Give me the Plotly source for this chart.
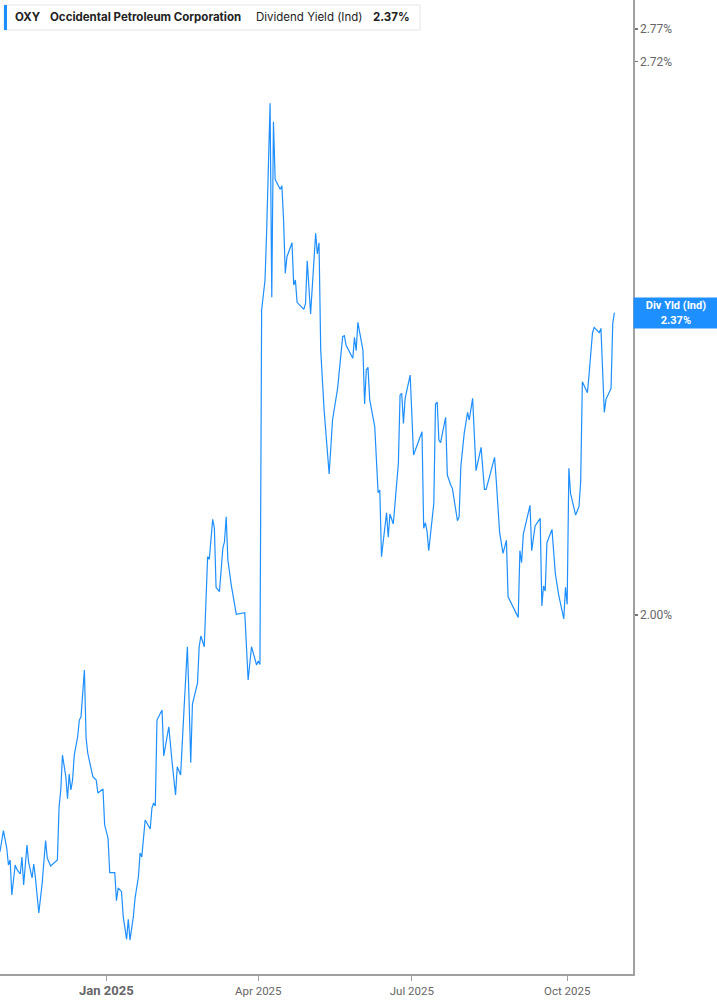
import plotly.graph_objects as go
import math

# ---------------- data ----------------
ticker = "OXY"
company = "Occidental Petroleum Corporation"
metric = "Dividend Yield (Ind)"
metric_short = "Div Yld (Ind)"

dates = [
    "2024-10-30", "2024-11-01", "2024-11-03", "2024-11-04", "2024-11-05", "2024-11-06",
    "2024-11-08", "2024-11-09", "2024-11-11", "2024-11-12", "2024-11-13", "2024-11-15",
    "2024-11-16", "2024-11-18", "2024-11-19", "2024-11-20", "2024-11-22", "2024-11-24",
    "2024-11-26", "2024-11-27", "2024-11-29", "2024-12-03", "2024-12-04", "2024-12-05",
    "2024-12-06", "2024-12-08", "2024-12-09", "2024-12-10", "2024-12-11", "2024-12-12",
    "2024-12-13", "2024-12-15", "2024-12-16", "2024-12-17", "2024-12-19", "2024-12-20",
    "2024-12-21", "2024-12-24", "2024-12-26", "2024-12-27", "2024-12-30", "2024-12-31",
    "2025-01-02", "2025-01-03", "2025-01-06", "2025-01-07", "2025-01-08", "2025-01-10",
    "2025-01-11", "2025-01-13", "2025-01-14", "2025-01-15", "2025-01-17", "2025-01-18",
    "2025-01-20", "2025-01-21", "2025-01-22", "2025-01-24", "2025-01-27", "2025-01-28",
    "2025-01-29", "2025-01-30", "2025-01-31", "2025-02-03", "2025-02-04", "2025-02-07",
    "2025-02-09", "2025-02-11", "2025-02-12", "2025-02-14", "2025-02-16", "2025-02-18",
    "2025-02-19", "2025-02-20", "2025-02-21", "2025-02-24", "2025-02-25", "2025-02-26",
    "2025-02-28", "2025-03-02", "2025-03-03", "2025-03-05", "2025-03-06", "2025-03-07",
    "2025-03-09", "2025-03-11", "2025-03-12", "2025-03-13", "2025-03-14", "2025-03-16",
    "2025-03-19", "2025-03-24", "2025-03-26", "2025-03-28", "2025-03-31", "2025-04-01",
    "2025-04-02", "2025-04-03", "2025-04-05", "2025-04-06", "2025-04-08", "2025-04-09",
    "2025-04-10", "2025-04-11", "2025-04-14", "2025-04-15", "2025-04-16", "2025-04-17",
    "2025-04-18", "2025-04-21", "2025-04-22", "2025-04-23", "2025-04-24", "2025-04-28",
    "2025-04-29", "2025-04-30", "2025-05-02", "2025-05-05", "2025-05-06", "2025-05-07",
    "2025-05-08", "2025-05-10", "2025-05-13", "2025-05-15", "2025-05-18", "2025-05-21",
    "2025-05-22", "2025-05-23", "2025-05-27", "2025-05-28", "2025-05-29", "2025-05-30",
    "2025-06-02", "2025-06-03", "2025-06-04", "2025-06-05", "2025-06-06", "2025-06-09",
    "2025-06-11", "2025-06-12", "2025-06-13", "2025-06-16", "2025-06-17", "2025-06-18",
    "2025-06-20", "2025-06-23", "2025-06-24", "2025-06-25", "2025-06-26", "2025-06-27",
    "2025-06-30", "2025-07-02", "2025-07-07", "2025-07-08", "2025-07-09", "2025-07-10",
    "2025-07-11", "2025-07-14", "2025-07-15", "2025-07-16", "2025-07-17", "2025-07-18",
    "2025-07-21", "2025-07-22", "2025-07-24", "2025-07-25", "2025-07-28", "2025-07-29",
    "2025-07-30", "2025-08-01", "2025-08-03", "2025-08-04", "2025-08-06", "2025-08-08",
    "2025-08-11", "2025-08-13", "2025-08-14", "2025-08-16", "2025-08-19", "2025-08-20",
    "2025-08-22", "2025-08-24", "2025-08-26", "2025-08-27", "2025-09-02", "2025-09-03",
    "2025-09-04", "2025-09-05", "2025-09-09", "2025-09-10", "2025-09-12", "2025-09-15",
    "2025-09-16", "2025-09-17", "2025-09-18", "2025-09-19", "2025-09-22", "2025-09-24",
    "2025-09-26", "2025-09-29", "2025-09-30", "2025-10-01", "2025-10-02", "2025-10-03",
    "2025-10-06", "2025-10-08", "2025-10-09", "2025-10-10", "2025-10-13", "2025-10-14",
    "2025-10-16", "2025-10-17", "2025-10-20", "2025-10-21", "2025-10-23", "2025-10-24",
    "2025-10-27", "2025-10-28", "2025-10-29",
]

div_yield = [
    1.7535, 1.7741, 1.7571, 1.7406, 1.7454, 1.7118,
    1.7406, 1.7364, 1.7319, 1.7483, 1.7213, 1.7600,
    1.7428, 1.7281, 1.7416, 1.7281, 1.6948, 1.7233,
    1.7643, 1.7474, 1.7396, 1.7454, 1.7979, 1.8147,
    1.8503, 1.8281, 1.8059, 1.8309, 1.8147, 1.8248,
    1.8503, 1.8692, 1.8866, 1.8901, 1.9398, 1.8679,
    1.8521, 1.8281, 1.8248, 1.8116, 1.8157, 1.7797,
    1.7669, 1.7332, 1.7332, 1.7064, 1.7185, 1.7150,
    1.6913, 1.6702, 1.6888, 1.6695, 1.6913, 1.7087,
    1.7293, 1.7522, 1.7483, 1.7847, 1.7758, 1.7966,
    1.8016, 1.7986, 1.8866, 1.8972, 1.8493, 1.8796,
    1.8421, 1.8096, 1.8383, 1.8299, 1.8972, 1.9651,
    1.9080, 1.8424, 1.9035, 1.9258, 1.9651, 1.9768,
    1.9651, 2.0659, 2.0629, 2.1092, 2.0991, 2.0310,
    2.0261, 2.0755, 2.0831, 2.1123, 2.0621, 2.0336,
    2.0008, 2.0026, 1.9291, 1.9651, 1.9452, 1.9495,
    1.9457, 2.3694, 2.4092, 2.4771, 2.6578, 2.3862,
    2.6307, 2.5479, 2.5338, 2.5388, 2.4909, 2.4182,
    2.4406, 2.4597, 2.4025, 2.4092, 2.3796, 2.3703,
    2.3782, 2.4352, 2.3641, 2.4726, 2.4443, 2.4597,
    2.3173, 2.2413, 2.1630, 2.2289, 2.2685, 2.3345,
    2.3358, 2.3238, 2.3067, 2.3337, 2.3164, 2.3532,
    2.3173, 2.2488, 2.2917, 2.2951, 2.2547, 2.2206,
    2.1406, 2.1439, 2.0659, 2.1170, 2.0883, 2.1155,
    2.1037, 2.1759, 2.2601, 2.2622, 2.2248, 2.2559,
    2.2853, 2.1860, 2.2145, 2.0987, 2.1053, 2.0948,
    2.0728, 2.1281, 2.2488, 2.2513, 2.2043, 2.2010,
    2.2322, 2.1618, 2.1498, 2.1459, 2.1076, 2.1123,
    2.1718, 2.2125, 2.2385, 2.2289, 2.2559, 2.1670,
    2.1953, 2.1447, 2.1447, 2.1606, 2.1832, 2.1550,
    2.0936, 2.0698, 2.0847, 2.0204, 1.9974, 2.0728,
    2.0590, 2.0917, 2.1257, 2.0728, 2.1014, 2.1104,
    2.0100, 2.0325, 2.0269, 2.0820, 2.0975, 2.0461,
    2.0223, 1.9956, 2.0310, 2.0119, 2.1699, 2.1399,
    2.1143, 2.1241, 2.1538, 2.2768, 2.2630, 2.2866,
    2.3397, 2.3467, 2.3397, 2.3454, 2.2385, 2.2547,
    2.2685, 2.3520, 2.3660,
]

y_tick_vals = [2.00, 2.72, 2.77]
y_tick_text = ["2.00%", "2.72%", "2.77%"]
x_tick_vals = ["2025-01-01", "2025-04-01", "2025-07-01", "2025-10-01"]
x_tick_text = ["Jan 2025", "Apr 2025", "Jul 2025", "Oct 2025"]

# ---------------- layout constants ----------------
W, H = 717, 1005
ML, MR, MT, MB = 0, 84, 0, 31
PW = W - ML - MR
PH = H - MT - MB
BLUE = "#1E8FFF"
GRAY_TXT = "#666666"
AXIS = "#a0a0a0"
FONT = "Roboto"
LEG_FONT = "Inter"


def px(x):
    return (x - ML) / PW


def py(y):
    return (MT + PH - y) / PH


last_val = div_yield[-1]
last_txt = f"{last_val:.2f}%"

fig = go.Figure()
fig.add_trace(go.Scatter(
    x=dates, y=div_yield, mode="lines",
    line=dict(color=BLUE, width=1.2),
    hoverinfo="skip", showlegend=False,
))

xt_text = []
for t in x_tick_text:
    if t.startswith("Jan"):
        xt_text.append(f"<span style='font-size:13px;'><b>{t}</b></span>")
    else:
        xt_text.append(t)

fig.update_layout(
    width=W, height=H,
    margin=dict(l=ML, r=MR, t=MT, b=MB, pad=0),
    paper_bgcolor="white", plot_bgcolor="white",
    font=dict(family=FONT, color=GRAY_TXT, size=11),
    showlegend=False,
    xaxis=dict(
        type="date",
        range=["2024-10-30", "2025-11-09"],
        tickvals=x_tick_vals, ticktext=xt_text,
        showgrid=False, zeroline=False,
        showline=True, linecolor=AXIS, linewidth=2,
        ticks="outside", ticklen=5, tickcolor=AXIS, tickwidth=1,
        tickfont=dict(size=11.5, color=GRAY_TXT, family=FONT),
        fixedrange=True,
    ),
    yaxis=dict(
        type="log", side="right",
        range=[math.log10(1.6383), math.log10(2.8149)],
        tickvals=y_tick_vals, ticktext=y_tick_text,
        showgrid=False, zeroline=False,
        showline=True, linecolor=AXIS, linewidth=1.5,
        ticks="outside", ticklen=3, tickcolor="#777777", tickwidth=1.5,
        tickfont=dict(size=12, color=GRAY_TXT, family=FONT),
        fixedrange=True,
    ),
)

# top-left info box
fig.add_shape(type="rect", xref="paper", yref="paper",
              x0=px(4), x1=px(420), y0=py(30), y1=py(5),
              line=dict(color="#e4e4e4", width=1), fillcolor="white", layer="above")
fig.add_shape(type="rect", xref="paper", yref="paper",
              x0=px(4), x1=px(7), y0=py(30), y1=py(5),
              line=dict(width=0), fillcolor=BLUE, layer="above")

parts = [
    (13, f"<b>{ticker}</b>"),
    (48, f"<b>{company}</b>"),
    (254, metric),
    (371, f"<b>{last_txt}</b>"),
]
for xpos, txt in parts:
    fig.add_annotation(xref="paper", yref="paper", x=px(xpos), y=py(17.5),
                       xanchor="left", yanchor="middle", showarrow=False,
                       text=txt, font=dict(family=LEG_FONT, size=11.5, color="#222222"))

# right-side value label
fig.add_annotation(xref="paper", yref="y", x=1.0, y=math.log10(last_val),
                   xanchor="left", yanchor="middle", showarrow=False,
                   text=f"<b>{metric_short}</b><br><b>{last_txt}</b>",
                   font=dict(family=FONT, size=11, color="white"),
                   bgcolor=BLUE, width=84, height=30, borderpad=0,
                   align="center")

fig.write_html("out.html",
               config={"displayModeBar": False, "staticPlot": True},
               post_script="document.body.style.margin='0';document.body.style.overflow='hidden';")
